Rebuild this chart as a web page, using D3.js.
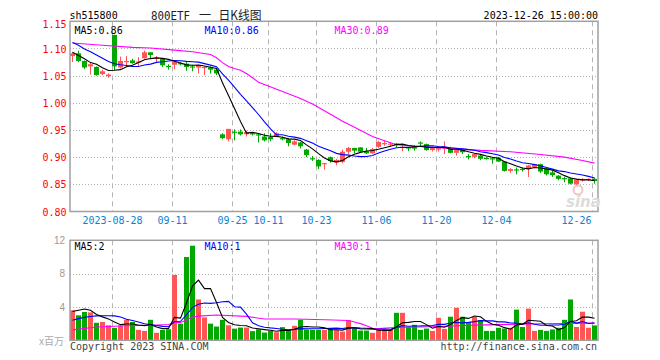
<!DOCTYPE html>
<html><head><meta charset="utf-8">
<script src="https://cdn.jsdelivr.net/npm/d3@7"></script>
<style>html,body{margin:0;padding:0;background:#fff;}svg{display:block;}</style>
</head><body>
<svg id="c" width="660" height="360"></svg>
<script>
// ---- data ----
const dates = ["08-17","08-18","08-21","08-22","08-23","08-24","08-25","08-28","08-29","08-30","08-31",
"09-01","09-04","09-05","09-06","09-07","09-08","09-11","09-12","09-13","09-14","09-15","09-18","09-19","09-20","09-21","09-22","09-25","09-26","09-27","09-28",
"10-09","10-10","10-11","10-12","10-13","10-16","10-17","10-18","10-19","10-20","10-23","10-24","10-25","10-26","10-27","10-30","10-31",
"11-01","11-02","11-03","11-06","11-07","11-08","11-09","11-10","11-13","11-14","11-15","11-16","11-17","11-20","11-21","11-22","11-23","11-24","11-27","11-28","11-29","11-30",
"12-01","12-04","12-05","12-06","12-07","12-08","12-11","12-12","12-13","12-14","12-15","12-18","12-19","12-20","12-21","12-22","12-25","12-26"];
const open  = [1.086,1.091,1.077,1.067,1.066,1.053,1.049,1.125,1.065,1.076,1.078,1.074,1.082,1.093,1.081,1.081,1.068,1.070,1.073,1.072,1.067,1.065,1.064,1.065,1.061,
0.942,0.933,0.947,0.947,0.942,0.944,0.942,0.938,0.937,0.938,0.935,0.933,0.923,0.927,0.914,0.898,0.895,0.888,0.900,0.890,0.891,0.910,0.917,0.918,0.911,0.907,0.919,0.925,0.924,
0.925,0.917,0.918,0.918,0.927,0.924,0.913,0.914,0.9155,0.9167,0.908,0.913,0.902,0.9006,0.903,0.8985,0.898,0.899,0.892,0.8747,0.8775,0.8785,0.878,0.882,0.887,0.8796,0.872,0.866,0.8615,0.861,0.850,0.8574,0.8586,0.860];
const high  = [1.093,1.096,1.078,1.073,1.067,1.061,1.054,1.125,1.085,1.086,1.081,1.084,1.096,1.093,1.086,1.082,1.071,1.077,1.075,1.075,1.070,1.070,1.067,1.067,1.062,
0.944,0.952,0.951,0.951,0.949,0.944,0.944,0.944,0.944,0.946,0.938,0.935,0.931,0.928,0.915,0.902,0.896,0.889,0.901,0.897,0.914,0.919,0.917,0.918,0.917,0.917,0.930,0.931,0.927,
0.926,0.922,0.919,0.922,0.929,0.925,0.918,0.919,0.929,0.919,0.914,0.914,0.9056,0.907,0.9043,0.9006,0.900,0.9006,0.893,0.8796,0.881,0.881,0.8858,0.888,0.888,0.881,0.8747,0.867,0.8636,0.8623,0.860,0.861,0.861,0.8623];
const low   = [1.075,1.075,1.062,1.052,1.050,1.051,1.046,1.060,1.063,1.066,1.072,1.068,1.081,1.081,1.075,1.066,1.061,1.062,1.069,1.059,1.058,1.054,1.051,1.054,1.051,
0.933,0.929,0.931,0.940,0.938,0.940,0.927,0.929,0.929,0.937,0.931,0.920,0.922,0.916,0.900,0.893,0.878,0.877,0.890,0.885,0.889,0.905,0.907,0.909,0.906,0.906,0.917,0.921,0.920,
0.918,0.911,0.911,0.912,0.920,0.912,0.9105,0.9105,0.9056,0.907,0.903,0.9056,0.8957,0.898,0.8944,0.8957,0.888,0.891,0.8735,0.871,0.8685,0.8735,0.8636,0.8796,0.871,0.866,0.8636,0.8574,0.8537,0.850,0.8475,0.855,0.856,0.8512];
const close = [1.091,1.077,1.065,1.071,1.051,1.058,1.052,1.067,1.077,1.077,1.073,1.076,1.093,1.088,1.083,1.069,1.067,1.075,1.072,1.066,1.066,1.069,1.066,1.061,1.054,
0.935,0.952,0.946,0.942,0.946,0.942,0.941,0.931,0.933,0.944,0.934,0.926,0.929,0.920,0.904,0.897,0.883,0.889,0.893,0.895,0.910,0.917,0.912,0.910,0.907,0.915,0.928,0.926,0.925,
0.922,0.919,0.916,0.917,0.926,0.913,0.9167,0.9167,0.918,0.908,0.913,0.909,0.901,0.9056,0.897,0.898,0.897,0.892,0.8747,0.878,0.877,0.878,0.8846,0.887,0.8735,0.8685,0.867,0.860,0.861,0.8512,0.8586,0.860,0.860,0.856];
const volume = [3.6,3.0,3.4,3.35,2.1,2.2,1.8,1.5,1.78,2.46,2.2,1.25,1.13,2.46,0.9,1.25,1.33,7.84,2.0,10.0,11.35,4.9,2.75,2.0,1.65,
2.46,1.8,1.4,1.53,1.53,1.1,1.33,0.93,1.13,0.97,1.58,1.25,1.74,2.46,1.25,1.25,1.25,1.25,1.33,1.25,1.05,2.42,1.45,1.17,1.17,0.9,1.33,1.33,1.25,
3.3,3.3,1.58,1.86,1.25,1.41,1.13,2.7,1.37,2.83,3.9,2.83,2.2,2.8,2.42,1.13,1.13,1.5,1.41,1.5,3.68,1.6,3.8,1.13,1.25,1.13,1.3,1.5,2.46,4.9,1.6,3.43,1.5,1.78];
// moving-average values before enough bars exist in the window
const ma5Head  = [1.093,1.087,1.081,1.074];
const ma10Head = [1.111,1.106,1.099,1.094,1.088,1.082,1.076,1.072,1.070];
const ma30Dates  = ["08-17","08-24","08-31","09-05","09-11","09-14","09-19","09-20","09-21","09-22","09-25","09-26","09-27","09-28","10-09","10-13","10-18","10-20","10-25","10-27","10-31","11-03","11-07","11-09","11-14","11-21","11-29","12-06","12-13","12-19","12-22","12-26"];
const ma30Values = [1.110,1.106,1.102,1.101,1.097,1.094,1.089,1.083,1.074,1.067,1.063,1.060,1.054,1.046,1.038,1.021,1.008,0.998,0.979,0.966,0.955,0.938,0.930,0.923,0.920,0.917,0.9125,0.910,0.905,0.900,0.894,0.889];
const vma5Head  = [3.45,3.6,3.75,3.6];
const vma10Head = [2.4,2.6,2.75,2.85,2.93,2.95,2.95,2.93,2.8];
const vma30Dates  = ["08-17","08-23","08-30","09-06","09-08","09-11","09-12","09-13","09-14","09-15","09-20","09-27","10-10","10-17","10-24","10-30","10-31","11-01","11-02","11-03","11-06","11-08","11-20","11-28","12-13","12-26"];
const vma30Values = [1.25,1.6,1.74,1.82,1.9,2.1,2.15,2.45,2.8,2.9,3.03,2.87,2.55,2.55,2.46,2.38,2.2,2.0,1.75,1.45,1.4,1.5,1.66,1.82,1.98,2.06];
const priceTicks = [0.80,0.85,0.90,0.95,1.00,1.05,1.10,1.15];
const volTicks = [4,8,12];
const dateTicks = ["08-28","09-11","09-25","10-11","10-23","11-06","11-20","12-04","12-26"];
const dateTickLabels = ["2023-08-28","09-11","09-25","10-11","10-23","11-06","11-20","12-04","12-26"];
const legendPrice = ["MA5:0.86","MA10:0.86","MA30:0.89"];
const legendVol = ["MA5:2","MA10:1","MA30:1"];

// ---- layout ----
const L=70, R=598, PT=21.3, PB=211.5, VT=240.3, VB=340.3;
const UP="#ff5555", DOWN="#00a800", GRID="#b4b4b4";
const MONO="'DejaVu Sans Mono', monospace";
const svg = d3.select("#c");
const x = d3.scaleBand().domain(dates).range([L,R]).padding(0);
const yP = d3.scaleLinear().domain([0.80,1.15]).range([PB,PT]);
const yV = d3.scaleLinear().domain([0,12]).range([VB,VT]);
const cx = d => x(d)+2.5;

function ma(arr,n,head){return arr.map((v,i)=> i<n-1 ? head[i] : d3.mean(arr.slice(i-n+1,i+1)));}
const ma5 = ma(close,5,ma5Head), ma10 = ma(close,10,ma10Head);
const vma5 = ma(volume,5,vma5Head), vma10 = ma(volume,10,vma10Head);

// ---- grid ----
const g = svg.append("g");
g.selectAll(".hp").data(priceTicks.slice(1,-1)).join("line")
 .attr("x1",L).attr("x2",R).attr("y1",d=>Math.round(yP(d))+0.5).attr("y2",d=>Math.round(yP(d))+0.5)
 .attr("stroke",GRID).attr("stroke-dasharray","1,2");
g.selectAll(".hv").data(volTicks.slice(0,-1)).join("line")
 .attr("x1",L).attr("x2",R).attr("y1",d=>Math.round(yV(d))+0.5).attr("y2",d=>Math.round(yV(d))+0.5)
 .attr("stroke",GRID).attr("stroke-dasharray","1,2");
[[PT,PB],[VT,VB]].forEach(([a,b])=>{
 g.selectAll(null).data(dateTicks).join("line")
  .attr("x1",d=>x(d)+0.5).attr("x2",d=>x(d)+0.5).attr("y1",a).attr("y2",b)
  .attr("stroke",GRID).attr("stroke-dasharray","5,4");
});

// ---- candles ----
const idx = d3.range(dates.length);
const cg = svg.append("g");
cg.selectAll(".wick").data(idx).join("rect")
 .attr("x",i=>x(dates[i])+2).attr("width",1)
 .attr("y",i=>yP(high[i])).attr("height",i=>Math.max(1,yP(low[i])-yP(high[i])))
 .attr("fill",i=>close[i]>=open[i]?UP:DOWN);
cg.selectAll(".body").data(idx).join("rect")
 .attr("x",i=>x(dates[i])).attr("width",5)
 .attr("y",i=>yP(Math.max(open[i],close[i])))
 .attr("height",i=>Math.max(1.2,Math.abs(yP(open[i])-yP(close[i]))))
 .attr("fill",i=>close[i]>=open[i]?UP:DOWN);

// ---- price MA lines ----
svg.append("clipPath").attr("id","cp").append("rect").attr("x",L).attr("y",PT).attr("width",R-L).attr("height",PB-PT);
const lineI = (arr,ys)=>d3.line().x(i=>cx(dates[i])).y(i=>ys(arr[i]));
const lg = svg.append("g").attr("clip-path","url(#cp)").attr("fill","none").attr("stroke-width",1.1);
lg.append("path").attr("d",d3.line().x((d,i)=>cx(ma30Dates[i])).y(d=>yP(d))(ma30Values)).attr("stroke","#ff00ff");
lg.append("path").attr("d",lineI(ma10,yP)(idx)).attr("stroke","#0000ff");
lg.append("path").attr("d",lineI(ma5,yP)(idx)).attr("stroke","#000");

// ---- volume ----
const vg = svg.append("g");
vg.selectAll("rect").data(idx).join("rect")
 .attr("x",i=>x(dates[i])).attr("width",5)
 .attr("y",i=>yV(volume[i])).attr("height",i=>VB-yV(volume[i]))
 .attr("fill",i=>close[i]>=open[i]?UP:DOWN);
svg.append("clipPath").attr("id","cv").append("rect").attr("x",L).attr("y",VT).attr("width",R-L).attr("height",VB-VT);
const vl = svg.append("g").attr("clip-path","url(#cv)").attr("fill","none").attr("stroke-width",1.1);
vl.append("path").attr("d",d3.line().x((d,i)=>cx(vma30Dates[i])).y(d=>yV(d))(vma30Values)).attr("stroke","#ff00ff");
vl.append("path").attr("d",lineI(vma10,yV)(idx)).attr("stroke","#0000ff");
vl.append("path").attr("d",lineI(vma5,yV)(idx)).attr("stroke","#000");

// ---- frames ----
svg.append("rect").attr("x",L).attr("y",PT).attr("width",R-L).attr("height",PB-PT).attr("fill","none").attr("stroke","#a0a0a0").attr("stroke-width",1.5);
svg.append("rect").attr("x",L).attr("y",VT).attr("width",R-L).attr("height",VB-VT).attr("fill","none").attr("stroke","#a0a0a0").attr("stroke-width",1.5);

// ---- axes ----
const ap = svg.append("g").attr("transform",`translate(${L},0)`)
 .call(d3.axisLeft(yP).tickValues(priceTicks).tickFormat(d3.format(".2f")).tickSize(0).tickPadding(3.5));
ap.select(".domain").remove();
ap.selectAll("text").attr("fill","#f00").attr("font-family",MONO).attr("font-size",10)
 .attr("dy",(d)=> d===1.15 ? "0.65em" : "0.36em");
const av = svg.append("g").attr("transform",`translate(${L-5},0)`)
 .call(d3.axisLeft(yV).tickValues(volTicks).tickSize(0).tickPadding(0));
av.select(".domain").remove();
av.selectAll("text").attr("fill","#999").attr("font-family","'Liberation Sans', Arial, sans-serif").attr("font-size",10);
const ax = svg.append("g").attr("transform",`translate(-2.5,${PB})`)
 .call(d3.axisBottom(x).tickValues(dateTicks).tickSize(0).tickPadding(5)
   .tickFormat((d,i)=>dateTickLabels[i]));
ax.select(".domain").remove();
ax.selectAll("text").attr("fill","#0a82d2").attr("font-family",MONO).attr("font-size",10);
ax.selectAll("text").filter(d=>d==="12-26").attr("text-anchor","end").attr("dx","-1");

// ---- texts ----
const t = (xx,yy,s,fill,anchor,size,fam)=>svg.append("text").attr("x",xx).attr("y",yy).text(s)
 .attr("fill",fill).attr("text-anchor",anchor||"start").attr("font-size",size||10).attr("font-family",fam||MONO);
t(69.5,19,"sh515800","#000");
t(151,19.5,"800ETF","#222","start",12).attr("textLength",39).attr("lengthAdjust","spacingAndGlyphs");
t(199,19.5,"一","#222","start",12,"'Noto Sans CJK SC'");
t(218.5,19.5,"日K线图","#222","start",12.5,"'Noto Sans CJK SC'").attr("textLength",43).attr("lengthAdjust","spacingAndGlyphs");
t(598,19,"2023-12-26 15:00:00","#000","end");
const legendColors = ["#000","#0000ff","#ff00ff"];
const legendX = [74.5,204.5,334.5];
legendPrice.forEach((s,i)=>t(legendX[i],33.5,s,legendColors[i]));
legendVol.forEach((s,i)=>t(legendX[i],250,s,legendColors[i]));
t(70,349.5,"Copyright 2023 SINA.COM","#444");
t(597,349.5,"http://finance.sina.com.cn","#444","end");
const xb = svg.append("text").attr("x",64).attr("y",345).attr("text-anchor","end").attr("fill","#aaa").attr("font-size",10)
 .attr("font-family","'Liberation Sans','Noto Sans CJK SC'");
xb.append("tspan").text("x");
xb.append("tspan").attr("font-family","'Noto Sans CJK SC'").text("百万");
// sina watermark
svg.append("circle").attr("cx",578).attr("cy",190).attr("r",4.5).attr("fill","none").attr("stroke","#f3c4c4").attr("stroke-width",2);
t(566,207,"sina","#dcdcdc","start",15,"'DejaVu Sans', sans-serif").attr("font-style","italic").attr("font-weight","bold");
</script>
</body></html>
